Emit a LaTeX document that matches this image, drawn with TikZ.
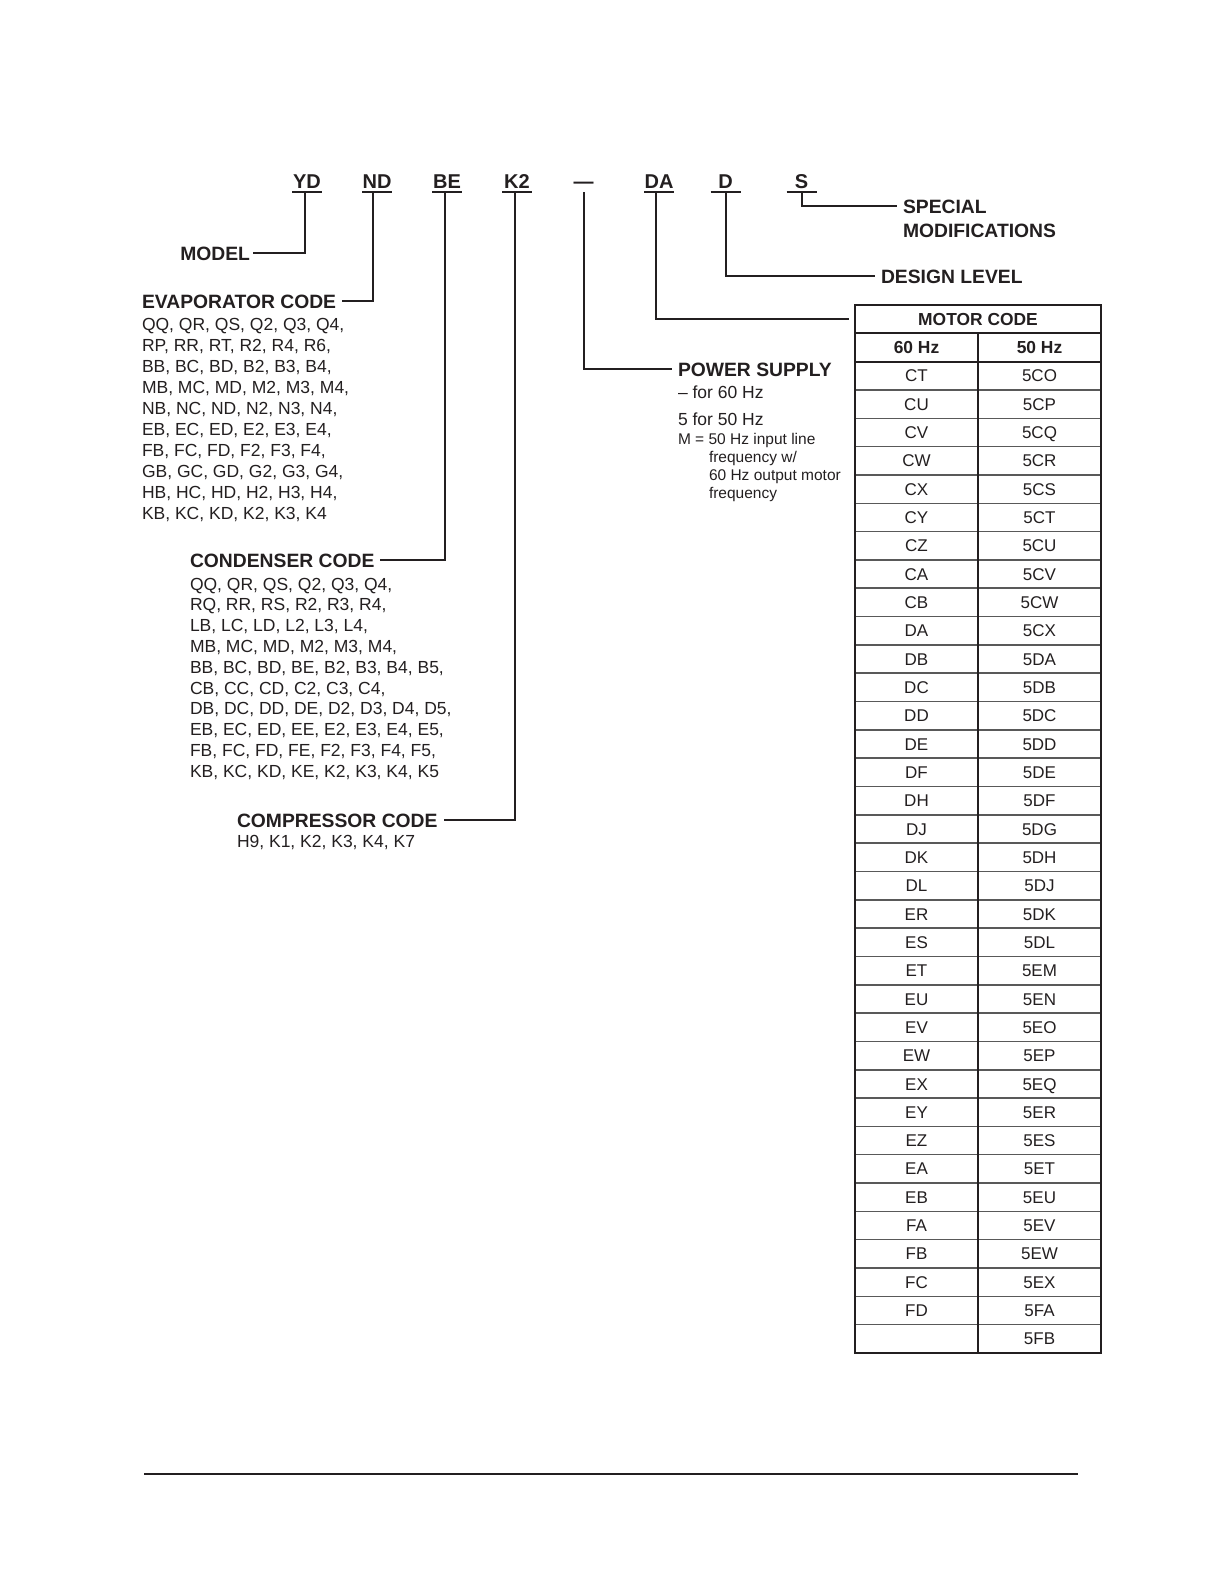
\documentclass[tikz,border=0pt]{standalone}
\usepackage{fontspec}
\setmainfont{Liberation Sans}
\definecolor{ink}{HTML}{231F20}
\begin{document}
\begin{tikzpicture}[x=0.5pt,y=-0.5pt,
  every node/.style={inner sep=0pt, outer sep=0pt, text=ink},
  code/.style={font=\fontsize{10}{12}\selectfont\bfseries, anchor=base, minimum width=15pt, inner ysep=2pt, text depth=0pt},
  head/.style={font=\fontsize{9.65}{11}\selectfont\bfseries, text height=6.9pt, text depth=0pt},
  body/.style={font=\fontsize{8.75}{10.5}\selectfont, anchor=base west},
  small/.style={font=\fontsize{7.75}{9}\selectfont, anchor=base west},
  conn/.style={draw=ink, line width=1pt, shorten >=3pt},
  uline/.style={draw=ink, line width=1pt},
  cell/.style={font=\fontsize{8.5}{10}\selectfont, text height=6.1pt, text depth=0pt},
  hcell/.style={cell, font=\fontsize{8.7}{10}\selectfont\bfseries},
  rowline/.style={draw=black!65, line width=0.75pt},
  hline/.style={draw=ink, line width=0.9pt}
]
\useasboundingbox (0,0) rectangle (1225,1585);

% ---- code letters ----
\node[code] (yd) at (307,188) {YD};
\node[code] (nd) at (377,188) {ND};
\node[code] (be) at (447,188) {BE};
\node[code] (k2) at (517,188) {K2};
\node[code] (dash) at (583.5,188) {—};
\node[code] (da) at (659,188) {DA};
\node[code] (d) at (725.5,188) {D};
\node[code] (s) at (801.5,188) {S};
\foreach \n in {yd,nd,be,k2,da,d,s}
  \draw[uline] (\n.south west) -- (\n.south east);

% ---- headings ----
\node[head, anchor=base east] (model) at (250,260) {MODEL};
\node[head, anchor=base west] (evap) at (142,308) {EVAPORATOR CODE};
\node[head, anchor=base west] (cond) at (190,567) {CONDENSER CODE};
\node[head, anchor=base west] (comp) at (237,827) {COMPRESSOR CODE};
\node[head, anchor=base west] (power) at (678,376) {POWER SUPPLY};
\node[head, anchor=base west] (special) at (903,213) {SPECIAL};
\node[head, anchor=base west] (modif) at (903,237) {MODIFICATIONS};
\node[head, anchor=base west] (design) at (881,283) {DESIGN LEVEL};

% ---- evaporator list ----
\foreach \t [count=\i from 0] in {{QQ, QR, QS, Q2, Q3, Q4,},{RP, RR, RT, R2, R4, R6,},{BB, BC, BD, B2, B3, B4,},{MB, MC, MD, M2, M3, M4,},{NB, NC, ND, N2, N3, N4,},{EB, EC, ED, E2, E3, E4,},{FB, FC, FD, F2, F3, F4,},{GB, GC, GD, G2, G3, G4,},{HB, HC, HD, H2, H3, H4,},{KB, KC, KD, K2, K3, K4}}
  \node[body] (ev\i) at (142,{330+21*\i}) {\t};

% ---- condenser list ----
\foreach \t [count=\i from 0] in {{QQ, QR, QS, Q2, Q3, Q4,},{RQ, RR, RS, R2, R3, R4,},{LB, LC, LD, L2, L3, L4,},{MB, MC, MD, M2, M3, M4,},{BB, BC, BD, BE, B2, B3, B4, B5,},{CB, CC, CD, C2, C3, C4,},{DB, DC, DD, DE, D2, D3, D4, D5,},{EB, EC, ED, EE, E2, E3, E4, E5,},{FB, FC, FD, FE, F2, F3, F4, F5,},{KB, KC, KD, KE, K2, K3, K4, K5}}
  \node[body] (cd\i) at (190,{590+20.8*\i}) {\t};

% ---- compressor list ----
\node[body] (cp0) at (237,847) {H9, K1, K2, K3, K4, K7};

% ---- power supply notes ----
\node[body] (ps1) at (678,398) {– for 60 Hz};
\node[body] (ps2) at (678,425) {5 for 50 Hz};
\node[small] (ps3) at (678,444) {M = 50 Hz input line};
\node[small] (ps4) at (709,462) {frequency w/};
\node[small] (ps5) at (709,480) {60 Hz output motor};
\node[small] (ps6) at (709,498) {frequency};

% ---- motor code table ----
\def\rh{28.324}
\node[hcell, minimum width=123pt, minimum height=14.162pt] (mc) at (978,{305+0.5*\rh}) {MOTOR CODE};
\node[hcell] (h60) at (916.5,{305+1.5*\rh}) {60 Hz};
\node[hcell] (h50) at (1039.5,{305+1.5*\rh}) {50 Hz};
\foreach \l/\r [count=\i from 2] in {CT/5CO,CU/5CP,CV/5CQ,CW/5CR,CX/5CS,CY/5CT,CZ/5CU,CA/5CV,CB/5CW,DA/5CX,DB/5DA,DC/5DB,DD/5DC,DE/5DD,DF/5DE,DH/5DF,DJ/5DG,DK/5DH,DL/5DJ,ER/5DK,ES/5DL,ET/5EM,EU/5EN,EV/5EO,EW/5EP,EX/5EQ,EY/5ER,EZ/5ES,EA/5ET,EB/5EU,FA/5EV,FB/5EW,FC/5EX,FD/5FA,/5FB} {
  \node[cell] (l\i) at (916.5,{305+(\i+0.5)*\rh}) {\l};
  \node[cell] (r\i) at (1039.5,{305+(\i+0.5)*\rh}) {\r};
}
\foreach \i in {3,...,36}
  \draw[rowline] (855,{305+\i*\rh}) -- (1101,{305+\i*\rh});
\draw[hline] (855,{305+\rh}) -- (1101,{305+\rh});
\draw[hline] (855,{305+2*\rh}) -- (1101,{305+2*\rh});
\draw[draw=ink, line width=1pt] (978,{305+\rh}) -- (978,1353);
\draw[draw=ink, line width=1.3pt] (855,305) rectangle (1101,1353);

% ---- connectors ----
\draw[conn, shorten >=1.5pt] ([xshift=-1pt]yd.south) |- (model.east);
\draw[conn] ([xshift=-2pt]nd.south) |- (evap.east);
\draw[conn] ([xshift=-1pt]be.south) |- (cond.east);
\draw[conn] ([xshift=-1pt]k2.south) |- (comp.east);
\draw[conn] (dash.south) |- (power.west);
\draw[conn] ([xshift=-1.5pt]da.south) |- (mc.west);
\draw[conn] (d.south) |- (design.west);
\draw[conn] (s.south) |- (special.west);

% ---- footer rule ----
\coordinate (fl) at (144,1474);
\coordinate (fr) at (1078,1474);
\draw[draw=ink, line width=1pt] (fl) -- (fr);
\end{tikzpicture}
\end{document}
